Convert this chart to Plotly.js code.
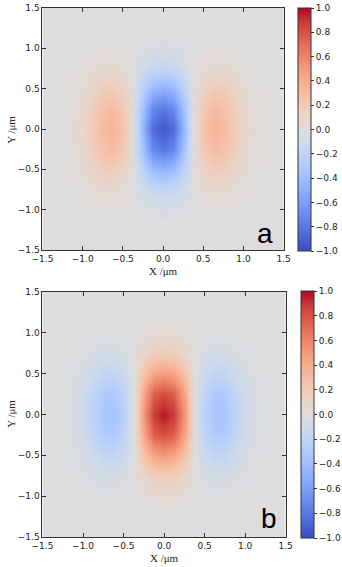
<!DOCTYPE html>
<html>
<head>
<meta charset="utf-8">
<script src="https://cdn.plot.ly/plotly-3.0.1.min.js"></script>
<style>
  html, body { margin: 0; padding: 0; background: #fff; }
  #chart { width: 342px; height: 567px; }
</style>
</head>
<body>
<div id="chart"></div>
<script>
/* ─── Field maps (a) and (b) ─── */

// grid positions in µm
const xPos = [-1.25, -1.125, -1.0, -0.875, -0.75, -0.625, -0.5, -0.375, -0.25, -0.125, 0,
              0.125, 0.25, 0.375, 0.5, 0.625, 0.75, 0.875, 1.0, 1.125, 1.25];
const yPos = [-1.0, -0.75, -0.5, -0.25, 0, 0.25, 0.5, 0.75, 1.0];

// panel a: rows at |y| = 0, 0.25, 0.5, 0.75, 1.0
const aRow00 = [0.01, 0.04, 0.09, 0.20, 0.32, 0.36, 0.25, 0.02, -0.45, -0.85, -0.95, -0.85, -0.45, 0.02, 0.25, 0.36, 0.32, 0.20, 0.09, 0.04, 0.01];
const aRow25 = [0.01, 0.03, 0.08, 0.17, 0.27, 0.31, 0.21, 0.02, -0.38, -0.72, -0.81, -0.72, -0.38, 0.02, 0.21, 0.31, 0.27, 0.17, 0.08, 0.03, 0.01];
const aRow50 = [0.01, 0.02, 0.05, 0.10, 0.16, 0.18, 0.12, 0.01, -0.23, -0.43, -0.48, -0.43, -0.23, 0.01, 0.12, 0.18, 0.16, 0.10, 0.05, 0.02, 0.01];
const aRow75 = [0.00, 0.01, 0.02, 0.04, 0.06, 0.06, 0.04, 0.00, -0.08, -0.15, -0.17, -0.15, -0.08, 0.00, 0.04, 0.06, 0.06, 0.04, 0.02, 0.01, 0.00];
const aRow100 = [0.00, 0.00, 0.00, 0.01, 0.01, 0.01, 0.01, 0.00, -0.02, -0.03, -0.04, -0.03, -0.02, 0.00, 0.01, 0.01, 0.01, 0.01, 0.00, 0.00, 0.00];

// panel b: rows at |y| = 0, 0.25, 0.5, 0.75, 1.0
const bRow00 = [-0.01, -0.04, -0.10, -0.22, -0.34, -0.36, -0.24, -0.01, 0.52, 0.88, 0.97, 0.88, 0.52, -0.01, -0.24, -0.36, -0.34, -0.22, -0.10, -0.04, -0.01];
const bRow25 = [-0.01, -0.03, -0.09, -0.19, -0.29, -0.31, -0.20, -0.01, 0.44, 0.75, 0.82, 0.75, 0.44, -0.01, -0.20, -0.31, -0.29, -0.19, -0.09, -0.03, -0.01];
const bRow50 = [-0.01, -0.02, -0.05, -0.11, -0.17, -0.18, -0.12, 0.00, 0.26, 0.44, 0.49, 0.44, 0.26, 0.00, -0.12, -0.18, -0.17, -0.11, -0.05, -0.02, -0.01];
const bRow75 = [0.00, -0.01, -0.02, -0.04, -0.06, -0.06, -0.04, 0.00, 0.09, 0.16, 0.17, 0.16, 0.09, 0.00, -0.04, -0.06, -0.06, -0.04, -0.02, -0.01, 0.00];
const bRow100 = [0.00, 0.00, 0.00, -0.01, -0.01, -0.01, -0.01, 0.00, 0.02, 0.04, 0.04, 0.04, 0.02, 0.00, -0.01, -0.01, -0.01, -0.01, 0.00, 0.00, 0.00];

const axisTicks = [-1.5, -1.0, -0.5, 0.0, 0.5, 1.0, 1.5];
const cbarTicks = [-1.0, -0.8, -0.6, -0.4, -0.2, 0.0, 0.2, 0.4, 0.6, 0.8, 1.0];
const panelLabels = ['a', 'b'];
const xTitle = 'X /μm';
const yTitle = 'Y /μm';

const zA = [aRow100, aRow75, aRow50, aRow25, aRow00, aRow25, aRow50, aRow75, aRow100];
const zB = [bRow100, bRow75, bRow50, bRow25, bRow00, bRow25, bRow50, bRow75, bRow100];

// matplotlib coolwarm
const COOLWARM = [
    [0.0, '#3b4cc0'], [0.0625, '#4d68d7'], [0.125, '#6282ea'], [0.1875, '#779af7'],
    [0.25, '#8db0fe'], [0.3125, '#a3c2ff'], [0.375, '#b8d0f9'], [0.4375, '#ccd9ee'],
    [0.5, '#dddddd'], [0.5625, '#ecd3c5'], [0.625, '#f5c4ac'], [0.6875, '#f7b193'],
    [0.75, '#f49a7b'], [0.8125, '#ec7f63'], [0.875, '#de604d'], [0.9375, '#cb3e38'],
    [1.0, '#b40426'],
];

const W = 342, H = 567;
const px = v => v / W;
const py = v => 1 - v / H;

const tickFont = { family: 'DejaVu Sans', size: 9, color: '#222' };
const titleFont = { family: 'Liberation Serif', size: 11, color: '#222' };

function heat(z, xa, ya, top, bottom, left) {
    return {
        type: 'heatmap',
        x: xPos, y: yPos, z: z,
        xaxis: xa, yaxis: ya,
        zmin: -1, zmax: 1,
        zsmooth: 'best',
        colorscale: COOLWARM,
        hoverinfo: 'skip',
        colorbar: {
            x: px(left), xanchor: 'left', xpad: 0,
            y: py(top), yanchor: 'top', ypad: 0,
            len: (bottom - top) / H, lenmode: 'fraction',
            thickness: 13, thicknessmode: 'pixels',
            outlinewidth: 1, outlinecolor: '#333',
            tickvals: cbarTicks, tickformat: '.1f',
            ticks: 'outside', ticklen: 3, tickcolor: '#333',
            tickfont: tickFont,
        },
    };
}

function axis(domain, anchor, title) {
    return {
        domain: domain, anchor: anchor,
        range: [-1.5, 1.5],
        tickvals: axisTicks, tickformat: '.1f',
        ticks: 'inside', ticklen: 4, tickcolor: '#333',
        showline: true, linecolor: '#333', linewidth: 1,
        mirror: 'ticks', showgrid: false, zeroline: false,
        tickfont: tickFont,
        title: title ? { text: title, font: titleFont, standoff: 4 } : undefined,
    };
}

// y titles placed as rotated paper annotations
function yLabel(centerPx) {
    return { xref: 'paper', yref: 'paper', x: px(11), y: py(centerPx), text: yTitle,
             xanchor: 'center', yanchor: 'middle',
             textangle: -90, showarrow: false, font: titleFont };
}

function panelLabel(xa, ya, x, y, text) {
    return { xref: xa, yref: ya, x: x, y: y, text: text, showarrow: false,
             font: { family: 'Liberation Sans', size: 28, color: '#000' } };
}

const data = [
    heat(zA, 'x', 'y', 8, 251, 302),
    heat(zB, 'x2', 'y2', 291, 538, 305),
];

const layout = {
    width: W, height: H,
    margin: { l: 0, r: 0, t: 0, b: 0 },
    paper_bgcolor: '#fff',
    plot_bgcolor: '#dddddd',
    showlegend: false,
    xaxis: axis([px(43), px(287)], 'y', xTitle),
    yaxis: axis([py(250), py(8)], 'x', null),
    xaxis2: axis([px(43), px(289)], 'y2', xTitle),
    yaxis2: axis([py(537), py(292)], 'x2', null),
    annotations: [
        yLabel(130),
        yLabel(414),
        panelLabel('x', 'y', 1.27, -1.29, panelLabels[0]),
        panelLabel('x2', 'y2', 1.29, -1.27, panelLabels[1]),
    ],
};

Plotly.newPlot('chart', data, layout, { staticPlot: true, displayModeBar: false });
</script>
</body>
</html>
